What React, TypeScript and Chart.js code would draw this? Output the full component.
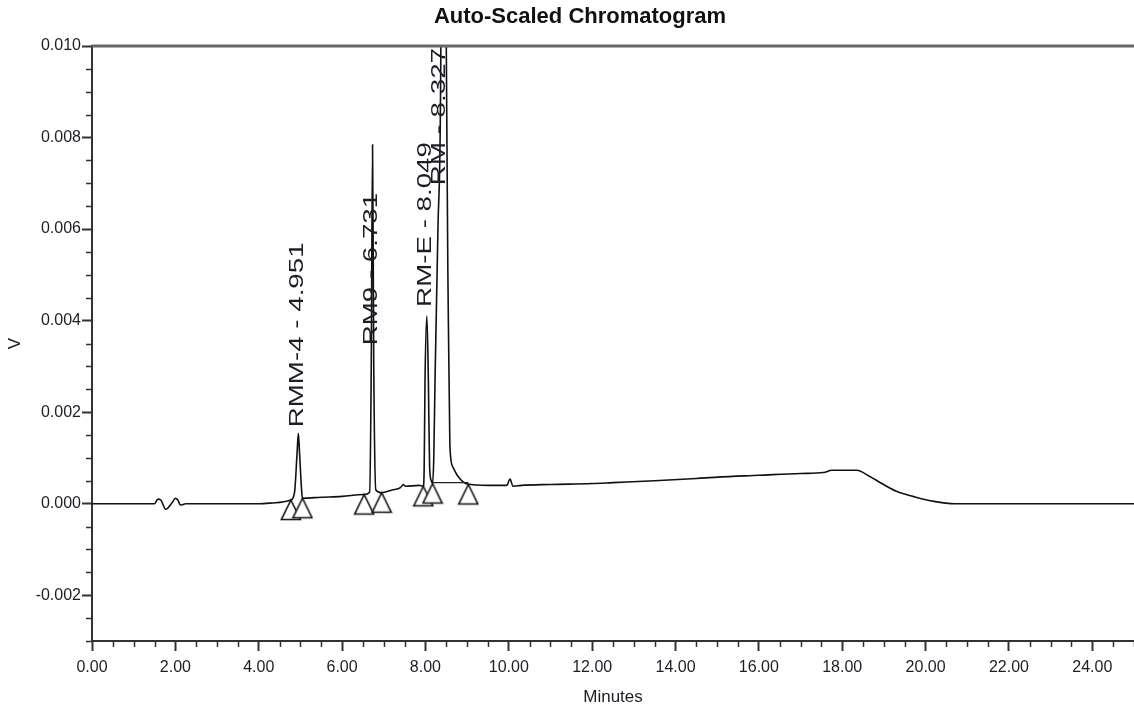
import React, { useEffect, useRef } from 'react';
import { Chart, registerables } from 'chart.js';

Chart.register(...registerables);

// ---- data ----
const chartTitle = 'Auto-Scaled Chromatogram';
const xAxisTitle = 'Minutes';
const yAxisTitle = 'V';

const traceMinutes = [
  0.0, 1.5, 1.58, 1.65, 1.77, 1.92, 2.0, 2.06, 2.12, 2.25, 3.0, 4.0, 4.4, 4.77, 4.86, 4.92, 4.951, 4.98, 5.03, 5.05,
  5.5, 6.0, 6.53, 6.66, 6.7, 6.731, 6.76, 6.81, 6.95, 7.2, 7.4, 7.47, 7.52, 7.85, 7.95, 7.97, 7.99, 8.035, 8.07, 8.1,
  8.14, 8.17, 8.2, 8.23, 8.3, 8.37, 8.44, 8.5, 8.55, 8.57, 8.59, 8.66, 8.78, 9.0, 9.5, 9.95, 10.03, 10.1, 10.3, 11.0,
  12.0, 12.5, 13.5, 14.5, 15.0, 16.0, 17.0, 17.55, 17.75, 18.35, 18.65, 18.95, 19.3, 19.7, 20.2, 20.7, 22.0, 25.0,
];
const traceVolts = [
  0.0, 0.0, 0.0001, 0.00008, -0.00012, 0.00002, 0.00012, 0.00008, -0.00003, 0.0, 0.0, 0.0, 0.00002, 0.00008, 0.00025,
  0.0011, 0.00154, 0.0011, 0.00028, 0.00012, 0.00014, 0.00016, 0.0002, 0.00025, 0.003, 0.00784, 0.003, 0.0003,
  0.00024, 0.0003, 0.00035, 0.00042, 0.00038, 0.0004, 0.00038, 0.0008, 0.0027, 0.0041, 0.0027, 0.0008, 0.0005,
  0.00044, 0.001, 0.0027, 0.006, 0.01, 0.03, 0.01, 0.004, 0.0025, 0.0012, 0.0008, 0.0006, 0.00043, 0.0004, 0.0004,
  0.00054, 0.00038, 0.0004, 0.00042, 0.00044, 0.00046, 0.0005, 0.00055, 0.00058, 0.00062, 0.00066, 0.00068, 0.00073,
  0.00073, 0.0006, 0.00044, 0.00027, 0.00016, 0.00005, 0.0, 0.0, 0.0,
];

// integration baseline drawn under the main peak
const baselineMinutes = [8.17, 9.03];
const baselineVolts = [0.00046, 0.00046];

// peak start / end markers
const markerMinutes = [4.77, 5.05, 6.53, 6.95, 7.95, 8.17, 9.03];
const markerVolts = [0.00008, 0.00012, 0.0002, 0.00024, 0.00038, 0.00044, 0.00042];

// peak annotations
const peakNames = ['RMM-4 - 4.951', 'RM9 - 6.731', 'RM-E - 8.049', 'RM - 8.327'];
const peakLabelMinutes = [4.92, 6.7, 8.0, 8.33];
const peakLabelVolts = [0.00167, 0.00346, 0.0043, 0.00696];

// axes
const xMin = 0;
const xMax = 25;
const yMin = -0.003;
const yMax = 0.01;
const xTickValues = [0, 2, 4, 6, 8, 10, 12, 14, 16, 18, 20, 22, 24];
const yTickValues = [-0.002, 0, 0.002, 0.004, 0.006, 0.008, 0.01];
const xMinorStep = 0.5;
const yMinorStep = 0.0005;

const SANS = "'Liberation Sans', Arial, sans-serif";
const TEXT = '#1d1d26';
const AXIS = '#333333';

function makeTriangle(): HTMLCanvasElement {
  const c = document.createElement('canvas');
  c.width = 22;
  c.height = 44;
  const g = c.getContext('2d')!;
  g.beginPath();
  g.moveTo(11, 22);
  g.lineTo(1.5, 41.5);
  g.lineTo(20.5, 41.5);
  g.closePath();
  g.fillStyle = '#ffffff';
  g.fill();
  g.lineWidth = 1.6;
  g.strokeStyle = '#111111';
  g.stroke();
  return c;
}

const decorPlugin = {
  id: 'decor',
  afterDatasetsDraw(chart: any) {
    const { ctx, scales } = chart;
    const x = scales.x;
    const y = scales.y;
    // peak labels
    ctx.save();
    ctx.font = `21px ${SANS}`;
    ctx.fillStyle = TEXT;
    ctx.textBaseline = 'middle';
    ctx.textAlign = 'left';
    peakNames.forEach((name, i) => {
      const px = x.getPixelForValue(peakLabelMinutes[i]);
      const py = y.getPixelForValue(peakLabelVolts[i]);
      ctx.save();
      ctx.translate(px, py);
      ctx.rotate(-Math.PI / 2);
      ctx.scale(1.32, 1);
      ctx.fillText(name, 0, 0);
      ctx.restore();
    });
    ctx.restore();
  },
  afterDraw(chart: any) {
    const { ctx, scales, chartArea } = chart;
    const x = scales.x;
    const y = scales.y;
    ctx.save();
    // top frame line
    ctx.strokeStyle = '#666666';
    ctx.lineWidth = 3;
    ctx.beginPath();
    ctx.moveTo(chartArea.left, chartArea.top);
    ctx.lineTo(chartArea.right, chartArea.top);
    ctx.stroke();
    // minor ticks
    ctx.strokeStyle = AXIS;
    ctx.lineWidth = 1.5;
    ctx.beginPath();
    for (let k = 0; ; k++) {
      const v = xMin + k * xMinorStep;
      if (v > xMax + 1e-9) break;
      if (Math.abs(v / 2 - Math.round(v / 2)) < 1e-6) continue;
      const px = Math.round(x.getPixelForValue(v)) + 0.5;
      ctx.moveTo(px, chartArea.bottom);
      ctx.lineTo(px, chartArea.bottom + 6);
    }
    for (let k = 0; ; k++) {
      const v = yMin + k * yMinorStep;
      if (v > yMax + 1e-9) break;
      if (Math.abs(v / 0.002 - Math.round(v / 0.002)) < 1e-6) continue;
      const py = Math.round(y.getPixelForValue(v)) + 0.5;
      ctx.moveTo(chartArea.left - 6, py);
      ctx.lineTo(chartArea.left, py);
    }
    ctx.stroke();
    // title
    ctx.fillStyle = '#111111';
    ctx.font = `bold 22px ${SANS}`;
    ctx.textAlign = 'center';
    ctx.textBaseline = 'middle';
    ctx.fillText(chartTitle, 580, 17);
    ctx.restore();
  },
};

export default function App() {
  const ref = useRef<HTMLCanvasElement | null>(null);
  useEffect(() => {
    if (!ref.current) return;
    const tri = makeTriangle();
    const chart = new Chart(ref.current, {
      type: 'line',
      data: {
        datasets: [
          {
            label: 'markers',
            data: markerMinutes.map((m, i) => ({ x: m, y: markerVolts[i] })),
            showLine: false,
            pointStyle: tri as any,
            pointRadius: 11,
            clip: false as any,
            order: 0,
          },
          {
            label: 'baseline',
            data: baselineMinutes.map((m, i) => ({ x: m, y: baselineVolts[i] })),
            borderColor: '#222222',
            borderWidth: 1.4,
            pointRadius: 0,
            order: 1,
          },
          {
            label: 'trace',
            data: traceMinutes.map((m, i) => ({ x: m, y: traceVolts[i] })),
            borderColor: '#111111',
            borderWidth: 1.6,
            pointRadius: 0,
            cubicInterpolationMode: 'monotone',
            order: 2,
          },
        ],
      },
      options: {
        animation: false,
        responsive: false,
        layout: { autoPadding: false, padding: { top: 46, left: 0, right: 0, bottom: 0 } },
        plugins: {
          legend: { display: false },
          tooltip: { enabled: false },
          title: { display: false },
        },
        scales: {
          x: {
            type: 'linear',
            min: xMin,
            max: xMax,
            afterBuildTicks: (s: any) => {
              s.ticks = xTickValues.map((value) => ({ value }));
            },
            afterFit: (s: any) => {
              s.height = 71;
              s.paddingLeft = 0;
              s.paddingRight = 0;
            },
            ticks: {
              autoSkip: false,
              maxRotation: 0,
              padding: 7,
              color: TEXT,
              font: { family: SANS, size: 16 },
              callback: (v: any) => Number(v).toFixed(2),
            },
            grid: { drawOnChartArea: false, drawTicks: true, tickLength: 10, tickColor: AXIS, tickWidth: 2 },
            border: { display: true, color: AXIS, width: 2 },
            title: {
              display: true,
              text: xAxisTitle,
              color: TEXT,
              font: { family: SANS, size: 17 },
              padding: { top: 0, bottom: 4 },
            },
          },
          y: {
            type: 'linear',
            min: yMin,
            max: yMax,
            afterBuildTicks: (s: any) => {
              s.ticks = yTickValues.map((value) => ({ value }));
            },
            afterFit: (s: any) => {
              s.width = 92;
            },
            ticks: {
              autoSkip: false,
              padding: 1,
              color: TEXT,
              font: { family: SANS, size: 16 },
              callback: (v: any) => Number(v).toFixed(3),
            },
            grid: { drawOnChartArea: false, drawTicks: true, tickLength: 10, tickColor: AXIS, tickWidth: 2 },
            border: { display: true, color: AXIS, width: 2 },
            title: {
              display: true,
              text: yAxisTitle,
              color: TEXT,
              font: { family: SANS, size: 17 },
              padding: { top: 5, bottom: 0 },
            },
          },
        },
      },
      plugins: [decorPlugin],
    });
    return () => chart.destroy();
  }, []);

  return (
    <div style={{ position: 'fixed', left: 0, top: 0, width: 1134, height: 712, background: '#fff' }}>
      <canvas ref={ref} width={1134} height={712} style={{ display: 'block' }} />
    </div>
  );
}
